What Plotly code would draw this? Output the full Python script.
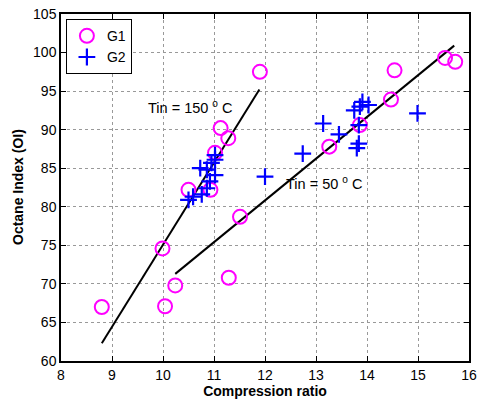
import plotly.graph_objects as go

g1_x = [8.80, 9.99, 10.04, 10.24, 10.50, 10.93, 11.02, 11.13, 11.28, 11.29, 11.51, 11.90,
        13.26, 13.86, 14.47, 14.54, 15.53, 15.73]
g1_y = [67.0, 74.6, 67.1, 69.8, 82.2, 82.2, 87.0, 90.2, 88.9, 70.8, 78.7, 97.5,
        87.8, 90.6, 93.9, 97.7, 99.3, 98.8]

g2_x = [10.50, 10.59, 10.76, 10.86, 10.92, 11.02, 10.73, 10.86, 10.95, 11.02, 11.02,
        12.00, 12.74, 13.14, 13.45, 13.75, 13.84, 13.80, 13.84, 13.91, 14.03, 13.86, 14.99]
g2_y = [80.9, 81.3, 81.6, 82.4, 83.3, 84.1, 85.0, 84.8, 85.7, 86.1, 86.7,
        83.9, 86.9, 90.8, 89.4, 92.5, 90.6, 87.6, 88.2, 93.6, 93.2, 93.0, 92.1]

fit150_x = [8.80, 11.89]
fit150_y = [62.3, 95.2]
fit50_x = [10.24, 15.71]
fit50_y = [71.3, 100.9]

font = "Liberation Sans, Arial, Helvetica, sans-serif"

fig = go.Figure()
fig.add_trace(go.Scatter(x=fit150_x, y=fit150_y, mode="lines",
                         line=dict(color="black", width=2), showlegend=False))
fig.add_trace(go.Scatter(x=fit50_x, y=fit50_y, mode="lines",
                         line=dict(color="black", width=2), showlegend=False))
fig.add_trace(go.Scatter(x=g1_x, y=g1_y, mode="markers", name="G1",
                         marker=dict(symbol="circle-open", size=14, color="#ff00ff",
                                     line=dict(width=2, color="#ff00ff"))))
fig.add_trace(go.Scatter(x=g2_x, y=g2_y, mode="markers", name="G2",
                         marker=dict(symbol="cross-thin-open", size=12, color="#0000ff",
                                     line=dict(width=2.2, color="#0000ff"))))

fig.add_annotation(x=10.53, y=92.9, text="Tin = 150 <sup>o</sup> C", showarrow=False,
                   font=dict(family=font, size=14.5, color="black"))
fig.add_annotation(x=13.15, y=83.1, text="Tin = 50 <sup>o</sup> C", showarrow=False,
                   font=dict(family=font, size=14.5, color="black"))

# y-axis title placed as a rotated annotation for exact positioning
fig.add_annotation(xref="paper", yref="paper", x=-0.1066, y=0.5, textangle=-90,
                   xanchor="center", yanchor="middle",
                   text="<b>Octane Index (OI)</b>", showarrow=False,
                   font=dict(family=font, size=14, color="black"))

axis_common = dict(showline=True, linecolor="black", linewidth=1.5, mirror="ticks",
                   ticks="inside", ticklen=5, tickcolor="black", automargin=False,
                   showgrid=True, gridcolor="#999999", griddash="dot", gridwidth=1,
                   zeroline=False, tickfont=dict(family=font, size=14, color="black"))

fig.update_xaxes(range=[8, 16], dtick=1, **axis_common,
                 title=dict(text="<b>Compression ratio</b>", standoff=1,
                            font=dict(family=font, size=14, color="black")))
fig.update_yaxes(range=[60, 105], dtick=5, **axis_common)

fig.update_layout(width=478, height=400, plot_bgcolor="white", paper_bgcolor="white",
                  margin=dict(l=61, r=9, t=14, b=39, autoexpand=False),
                  legend=dict(x=0.012, y=0.985, xanchor="left", yanchor="top",
                              bgcolor="white", bordercolor="black", borderwidth=1,
                              font=dict(family=font, size=14, color="black"),
                              itemwidth=30, tracegroupgap=0))

fig.write_html("out.html", config={"displayModeBar": False},
               post_script=("document.documentElement.style.margin='0';"
                            "document.documentElement.style.overflow='hidden';"
                            "document.body.style.margin='0';document.body.style.padding='0';"
                            "document.body.style.overflow='hidden';"))
